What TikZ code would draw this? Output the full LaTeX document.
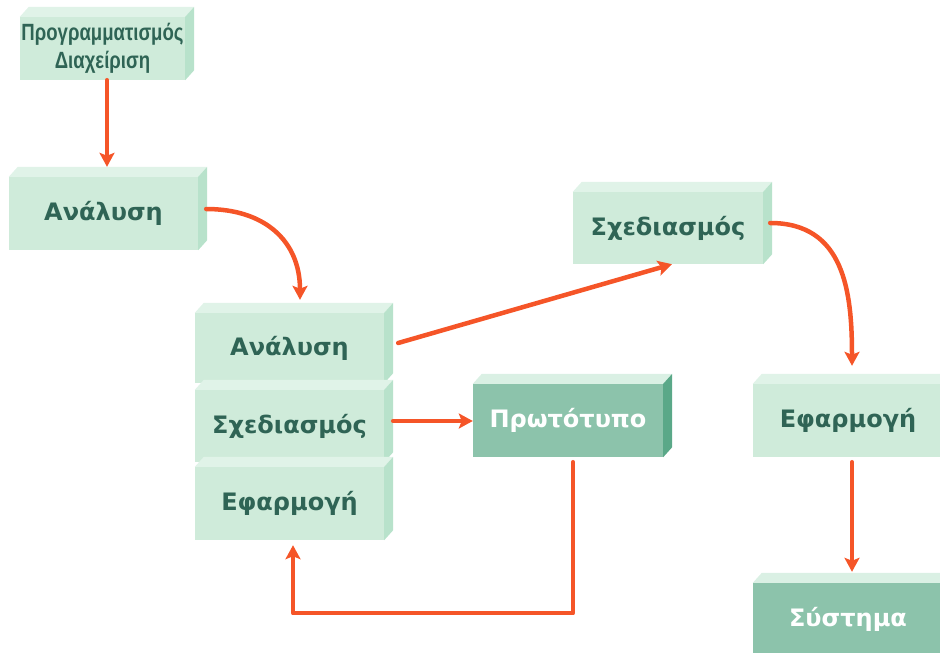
\documentclass[tikz,border=0pt]{standalone}
\usepackage{fontspec}
\setmainfont{DejaVu Sans}
\newfontfamily\narrowfont{Liberation Sans}[FakeStretch=0.79]
\usetikzlibrary{arrows.meta}

\definecolor{frontlt}{RGB}{207,235,218}
\definecolor{toplt}{RGB}{224,243,232}
\definecolor{sidelt}{RGB}{184,226,203}
\definecolor{frontdk}{RGB}{140,195,171}
\definecolor{topdk}{RGB}{218,240,228}
\definecolor{sidedk}{RGB}{90,168,136}
\definecolor{ink}{RGB}{47,100,85}
\definecolor{arrowred}{RGB}{245,85,40}

\tikzset{
  stage/.style={fill=frontlt, text=ink, inner sep=0pt,
    font=\bfseries\fontsize{24}{28}\selectfont,
    minimum width=189pt, minimum height=73pt},
  product/.style={stage, fill=frontdk, text=white},
  flow/.style={draw=arrowred, line width=4.5pt, line join=round, line cap=round,
    -{Stealth[length=14pt,width=15pt,inset=3pt]}},
}

% top and right faces of a block drawn as a node
\newcommand\solidfaces[3]{%
  \fill[#2] (#1.north west) -- ++(9,-10) -- ([shift={(9,-10)}]#1.north east) -- (#1.north east) -- cycle;
  \fill[#3] (#1.north east) -- ++(9,-10) -- ([shift={(9,-10)}]#1.south east) -- (#1.south east) -- cycle;}

\begin{document}
\begin{tikzpicture}[x=1pt,y=-1pt]
\useasboundingbox (0,0) rectangle (940,653);
\clip (0,0) rectangle (940,653);

% blocks
\node[stage, minimum width=165pt, minimum height=63pt, align=center,
  font=\narrowfont\bfseries\fontsize{23.5}{28}\selectfont] (plan) at (102.5,48.5)
  {Προγραμματισμός\\Διαχείριση};
\solidfaces{plan}{toplt}{sidelt}

\node[stage] (an) at (103.5,213.5) {Ανάλυση};
\solidfaces{an}{toplt}{sidelt}

\node[stage, minimum height=70pt] (sa) at (289.5,348) {Ανάλυση};
\solidfaces{sa}{toplt}{sidelt}
\node[stage, minimum height=72pt] (ss) at (289.5,426) {Σχεδιασμός};
\solidfaces{ss}{toplt}{sidelt}
\node[stage] (se) at (289.5,503.5) {Εφαρμογή};
\solidfaces{se}{toplt}{sidelt}

\node[product, minimum width=190pt] (pr) at (568,420.5) {Πρωτότυπο};
\solidfaces{pr}{topdk}{sidedk}

\node[stage, minimum width=190pt, minimum height=72pt] (sd) at (668,228) {Σχεδιασμός};
\solidfaces{sd}{toplt}{sidelt}

\node[stage, minimum width=190pt] (ef) at (848,420.5) {Εφαρμογή};
\solidfaces{ef}{toplt}{sidelt}

\node[product, minimum width=190pt] (sy) at (848,619.5) {Σύστημα};
\solidfaces{sy}{topdk}{sidedk}

% connectors
\draw[flow] ([shift={(4.5,0)}]plan.south) -- ([shift={(3.5,-10)}]an.north);
\draw[flow] ([shift={(8,-4.5)}]an.east) to[out=0,in=90,looseness=1.15] ([shift={(10.5,-13)}]sa.north);
\draw[flow] ([shift={(14,-5)}]sa.east) -- ([shift={(4,0)}]sd.south);
\draw[flow] ([shift={(9,-5)}]ss.east) -- ([shift={(0,0.5)}]pr.west);
\draw[flow] ([shift={(5,5)}]pr.south) -- ++(0,151) -| ([shift={(3.5,5)}]se.south);
\draw[flow] ([shift={(7,-5)}]sd.east) to[out=0,in=90,looseness=1.15] ([shift={(4,-18)}]ef.north);
\draw[flow] ([shift={(4,5)}]ef.south) -- ([shift={(4,-11)}]sy.north);
\end{tikzpicture}
\end{document}
